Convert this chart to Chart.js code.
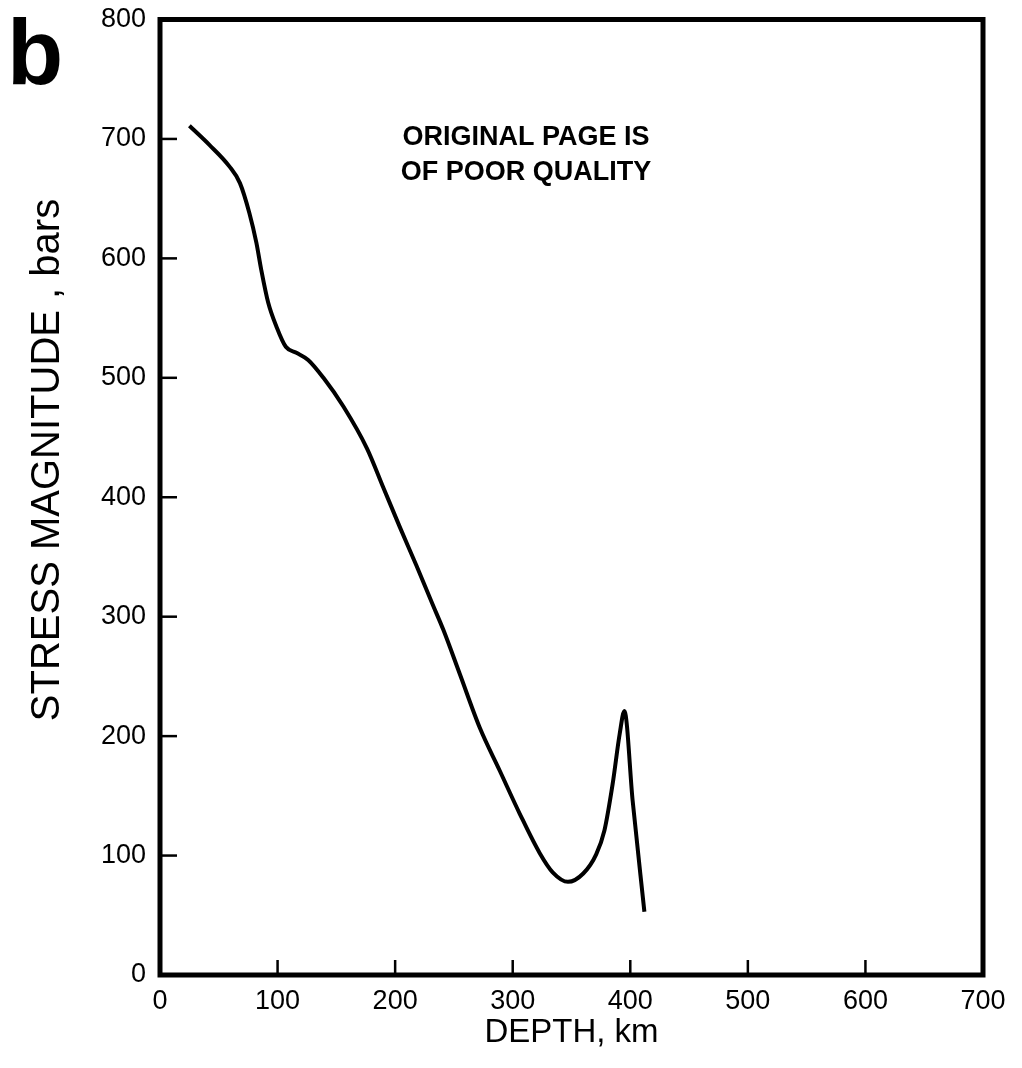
<!DOCTYPE html>
<html>
<head>
    <title>Stress magnitude vs depth</title>
    <style>
        body { margin: 0; background: #fff; }
        canvas { display: block; }
    </style>
    <script src="https://cdn.jsdelivr.net/npm/chart.js@4.4.0/dist/chart.umd.min.js"></script>
</head>
<body>
    <canvas id="chartCanvas" width="1022" height="1068"></canvas>

    <script>
        // values
        const depthKm = [25, 42, 59, 68, 76, 82, 86, 92, 99, 107, 116, 126, 139, 156, 176, 190, 204, 218, 232, 241,
                         255, 272, 289, 306, 323, 334, 347, 360, 371, 378, 385, 391, 395, 402, 412];
        const stressBars = [711, 695, 677, 663, 638, 613, 591, 563, 543, 526, 521, 515, 500, 476, 441, 408, 375, 343, 310, 289,
                            252, 207, 171, 135, 102, 86, 78, 85, 101, 121, 160, 202, 221, 146, 53];
        const xTicks = [0, 100, 200, 300, 400, 500, 600, 700];
        const yTicks = [0, 100, 200, 300, 400, 500, 600, 700, 800];

        const points = depthKm.map((d, i) => ({ x: d, y: stressBars[i] }));

        // box, inward ticks and the free text
        const framePlugin = {
            id: 'frame',
            afterDraw(chart) {
                const ctx = chart.ctx;
                const a = chart.chartArea;
                const xs = chart.scales.x;
                const ys = chart.scales.y;
                ctx.save();
                ctx.strokeStyle = '#000';
                ctx.lineWidth = 5;
                ctx.strokeRect(a.left, a.top, a.right - a.left, a.bottom - a.top);

                ctx.lineWidth = 2.5;
                xTicks.forEach(v => {
                    const px = xs.getPixelForValue(v);
                    ctx.beginPath();
                    ctx.moveTo(px, a.bottom);
                    ctx.lineTo(px, a.bottom - 15);
                    ctx.stroke();
                });
                yTicks.forEach(v => {
                    const py = ys.getPixelForValue(v);
                    ctx.beginPath();
                    ctx.moveTo(a.left, py);
                    ctx.lineTo(a.left + 17, py);
                    ctx.stroke();
                });

                ctx.fillStyle = '#000';
                ctx.textAlign = 'center';
                ctx.textBaseline = 'middle';

                // x axis title
                ctx.font = '33px "Liberation Sans"';
                ctx.fillText('DEPTH, km', (a.left + a.right) / 2, 1033);

                // y axis title
                ctx.save();
                ctx.translate(48, 460);
                ctx.rotate(-Math.PI / 2);
                ctx.font = '40px "Liberation Sans"';
                ctx.fillText('STRESS MAGNITUDE , bars', 0, 0);
                ctx.restore();

                // note inside the plot
                ctx.font = 'bold 27px "Liberation Sans"';
                ctx.fillText('ORIGINAL PAGE IS', 526, 138);
                ctx.fillText('OF POOR QUALITY', 526, 173);

                // panel letter
                ctx.textAlign = 'left';
                ctx.textBaseline = 'alphabetic';
                ctx.font = 'bold 92px "Liberation Sans"';
                ctx.fillText('b', 7, 84);
                ctx.restore();
            }
        };

        new Chart(document.getElementById('chartCanvas').getContext('2d'), {
            type: 'line',
            data: {
                datasets: [{
                    data: points,
                    borderColor: '#000',
                    borderWidth: 4,
                    pointRadius: 0,
                    fill: false,
                    cubicInterpolationMode: 'monotone'
                }]
            },
            options: {
                responsive: false,
                animation: false,
                layout: { padding: { top: 16, right: 39, left: 0, bottom: 0 } },
                plugins: {
                    legend: { display: false },
                    tooltip: { enabled: false }
                },
                scales: {
                    x: {
                        type: 'linear',
                        min: 0,
                        max: 700,
                        afterFit: s => { s.height = 93; },
                        afterBuildTicks: s => { s.ticks = xTicks.map(v => ({ value: v })); },
                        grid: { display: false },
                        border: { display: false },
                        ticks: {
                            color: '#000',
                            padding: 5,
                            maxRotation: 0,
                            font: { family: 'Liberation Sans', size: 27, lineHeight: 1 }
                        }
                    },
                    y: {
                        type: 'linear',
                        min: 0,
                        max: 800,
                        afterFit: s => { s.width = 160; },
                        afterBuildTicks: s => { s.ticks = yTicks.map(v => ({ value: v })); },
                        grid: { display: false },
                        border: { display: false },
                        ticks: {
                            color: '#000',
                            padding: 6,
                            font: { family: 'Liberation Sans', size: 27, lineHeight: 1 }
                        }
                    }
                }
            },
            plugins: [framePlugin]
        });
    </script>
</body>
</html>
